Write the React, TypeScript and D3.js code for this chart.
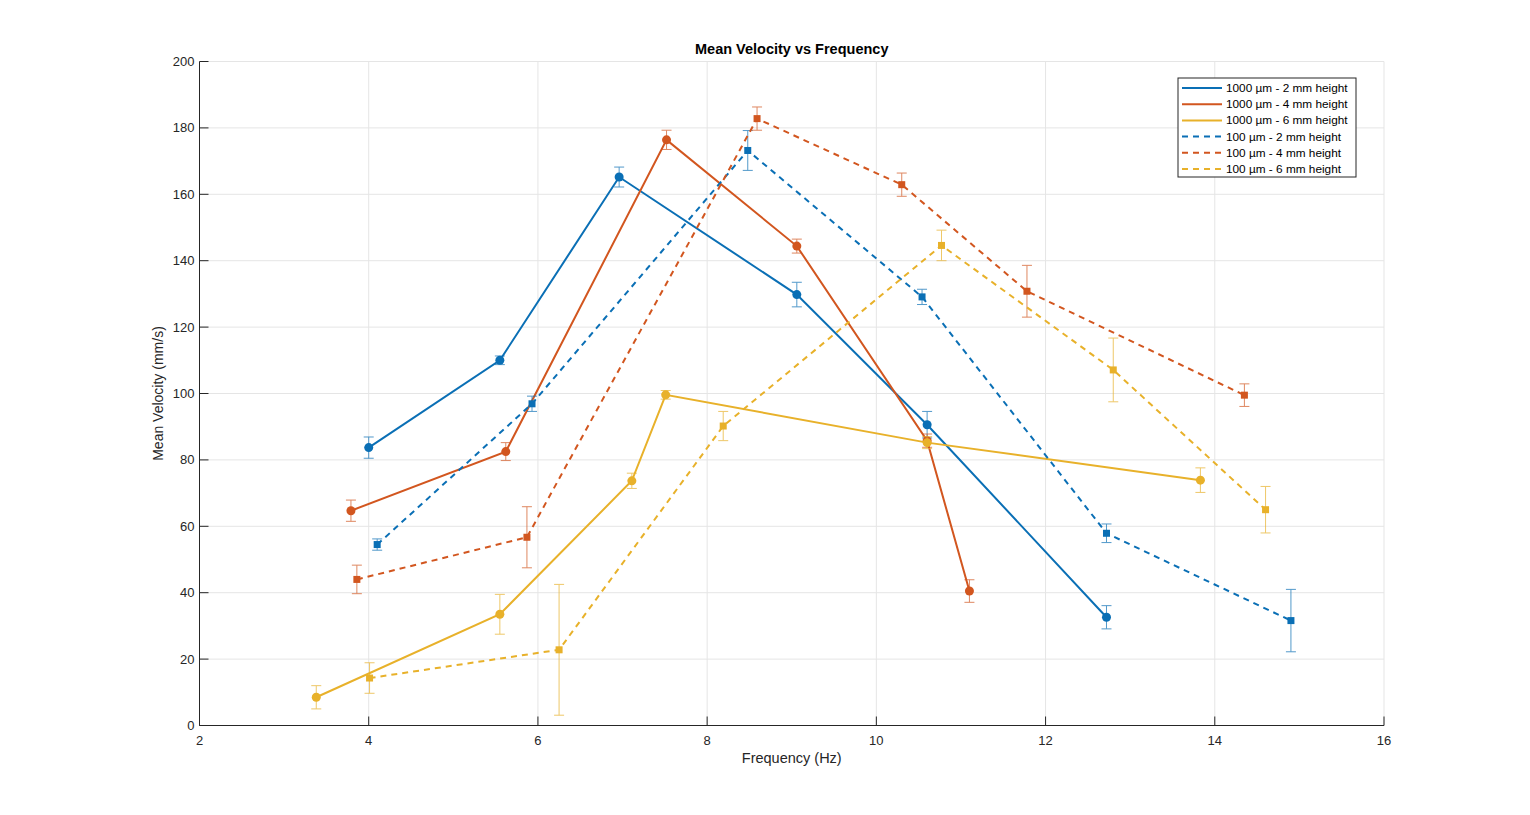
import * as d3 from "d3";

// frequency (Hz), mean velocity (mm/s) and error half-widths, one set per series
const seriesNames = [
  "1000 µm - 2 mm height",
  "1000 µm - 4 mm height",
  "1000 µm - 6 mm height",
  "100 µm - 2 mm height",
  "100 µm - 4 mm height",
  "100 µm - 6 mm height",
];

const freq1000_2 = [4.0, 5.55, 6.96, 9.06, 10.6, 12.72];
const vel1000_2 = [83.7, 110.0, 165.2, 129.8, 90.6, 32.6];
const err1000_2 = [3.2, 1.3, 3.0, 3.7, 4.0, 3.5];

const freq1000_4 = [3.79, 5.62, 7.52, 9.06, 10.6, 11.1];
const vel1000_4 = [64.7, 82.5, 176.4, 144.4, 85.8, 40.5];
const err1000_4 = [3.2, 2.7, 2.9, 2.1, 2.0, 3.4];

const freq1000_6 = [3.38, 5.55, 7.11, 7.51, 10.6, 13.83];
const vel1000_6 = [8.5, 33.5, 73.7, 99.6, 85.2, 73.9];
const err1000_6 = [3.5, 6.0, 2.3, 1.3, 1.8, 3.7];

const freq100_2 = [4.1, 5.93, 8.48, 10.54, 12.72, 14.9];
const vel100_2 = [54.5, 96.9, 173.2, 129.1, 57.9, 31.6];
const err100_2 = [1.7, 2.3, 6.0, 2.3, 2.8, 9.4];

const freq100_4 = [3.86, 5.87, 8.59, 10.3, 11.78, 14.35];
const vel100_4 = [44.0, 56.7, 182.8, 162.9, 130.8, 99.5];
const err100_4 = [4.3, 9.2, 3.5, 3.5, 7.8, 3.4];

const freq100_6 = [4.01, 6.25, 8.19, 10.77, 12.8, 14.6];
const vel100_6 = [14.3, 22.8, 90.2, 144.6, 107.1, 65.0];
const err100_6 = [4.6, 19.7, 4.4, 4.6, 9.6, 7.0];

const xTicks = [2, 4, 6, 8, 10, 12, 14, 16];
const yTicks = [0, 20, 40, 60, 80, 100, 120, 140, 160, 180, 200];

const colors = ["#0A6FB5", "#D2561F", "#E8B12A"];

type Series = {
  name: string;
  x: number[];
  y: number[];
  err: number[];
  color: string;
  dashed: boolean;
};

const series: Series[] = [
  { name: seriesNames[0], x: freq1000_2, y: vel1000_2, err: err1000_2, color: colors[0], dashed: false },
  { name: seriesNames[1], x: freq1000_4, y: vel1000_4, err: err1000_4, color: colors[1], dashed: false },
  { name: seriesNames[2], x: freq1000_6, y: vel1000_6, err: err1000_6, color: colors[2], dashed: false },
  { name: seriesNames[3], x: freq100_2, y: vel100_2, err: err100_2, color: colors[0], dashed: true },
  { name: seriesNames[4], x: freq100_4, y: vel100_4, err: err100_4, color: colors[1], dashed: true },
  { name: seriesNames[5], x: freq100_6, y: vel100_6, err: err100_6, color: colors[2], dashed: true },
];

const W = 1530;
const H = 815;
const left = 199.5;
const right = 1384;
const top = 61.5;
const bottom = 725.5;
const font = "'Liberation Sans', Arial, Helvetica, sans-serif";
const axisColor = "#262626";

export default function App() {
  const x = d3.scaleLinear().domain([2, 16]).range([left, right]);
  const y = d3.scaleLinear().domain([0, 200]).range([bottom, top]);

  const line = d3
    .line<[number, number]>()
    .x((d) => x(d[0]))
    .y((d) => y(d[1]));

  const cap = 5;
  const tick = 9;

  return (
    <svg
      width={W}
      height={H}
      style={{ position: "absolute", left: 0, top: 0, background: "#fff" }}
      fontFamily={font}
    >
      <rect x={0} y={0} width={W} height={H} fill="#fff" />

      {/* grid */}
      <g stroke="#e5e5e5" strokeWidth={1}>
        {xTicks.map((t) => (
          <line key={"gx" + t} x1={x(t)} x2={x(t)} y1={top} y2={bottom} />
        ))}
        {yTicks.map((t) => (
          <line key={"gy" + t} x1={left} x2={right} y1={y(t)} y2={y(t)} />
        ))}
      </g>

      {/* series */}
      {series.map((s) => {
        const pts = s.x.map((v, i) => [v, s.y[i]] as [number, number]);
        return (
          <g key={s.name}>
            <path
              d={line(pts) ?? ""}
              fill="none"
              stroke={s.color}
              strokeWidth={2}
              strokeDasharray={s.dashed ? "6 5" : undefined}
            />
            <g stroke={s.color} strokeWidth={1} opacity={0.7}>
              {pts.map((p, i) => {
                const cx = x(p[0]);
                const y1 = y(p[1] + s.err[i]);
                const y2 = y(p[1] - s.err[i]);
                return (
                  <g key={i}>
                    <line x1={cx} x2={cx} y1={y1} y2={y2} />
                    <line x1={cx - cap} x2={cx + cap} y1={y1} y2={y1} />
                    <line x1={cx - cap} x2={cx + cap} y1={y2} y2={y2} />
                  </g>
                );
              })}
            </g>
            {pts.map((p, i) =>
              s.dashed ? (
                <rect
                  key={"m" + i}
                  x={x(p[0]) - 3.5}
                  y={y(p[1]) - 3.5}
                  width={7}
                  height={7}
                  fill={s.color}
                />
              ) : (
                <circle key={"m" + i} cx={x(p[0])} cy={y(p[1])} r={4.5} fill={s.color} />
              )
            )}
          </g>
        );
      })}

      {/* axes */}
      <g stroke={axisColor} strokeWidth={1}>
        <line x1={left} x2={right} y1={bottom} y2={bottom} />
        <line x1={left} x2={left} y1={top} y2={bottom} />
        {xTicks.map((t) => (
          <line key={"tx" + t} x1={x(t)} x2={x(t)} y1={bottom} y2={bottom - tick} />
        ))}
        {yTicks.map((t) => (
          <line key={"ty" + t} x1={left} x2={left + tick} y1={y(t)} y2={y(t)} />
        ))}
      </g>
      <g fill={axisColor} fontSize={13}>
        {xTicks.map((t) => (
          <text key={"lx" + t} x={x(t)} y={bottom + 19} textAnchor="middle">
            {t}
          </text>
        ))}
        {yTicks.map((t) => (
          <text key={"ly" + t} x={left - 5} y={y(t) + 4.5} textAnchor="end">
            {t}
          </text>
        ))}
      </g>

      <text
        x={(left + right) / 2}
        y={54}
        textAnchor="middle"
        fontSize={14.5}
        fontWeight="bold"
        fill="#000"
      >
        Mean Velocity vs Frequency
      </text>
      <text x={(left + right) / 2} y={763} textAnchor="middle" fontSize={14.5} fill={axisColor}>
        Frequency (Hz)
      </text>
      <text
        transform={`translate(163,${(top + bottom) / 2}) rotate(-90)`}
        textAnchor="middle"
        fontSize={14}
        fill={axisColor}
      >
        Mean Velocity (mm/s)
      </text>

      {/* legend */}
      <g transform="translate(1178,78)">
        <rect x={0} y={0} width={178} height={99} fill="#fff" stroke={axisColor} strokeWidth={1} />
        {series.map((s, i) => (
          <g key={"lg" + i} transform={`translate(0,${10 + i * 16.2})`}>
            <line
              x1={4}
              x2={44}
              y1={0}
              y2={0}
              stroke={s.color}
              strokeWidth={2}
              strokeDasharray={s.dashed ? "6 5" : undefined}
            />
            <text x={48} y={4} fontSize={11.8} fill="#000">
              {s.name}
            </text>
          </g>
        ))}
      </g>
    </svg>
  );
}
